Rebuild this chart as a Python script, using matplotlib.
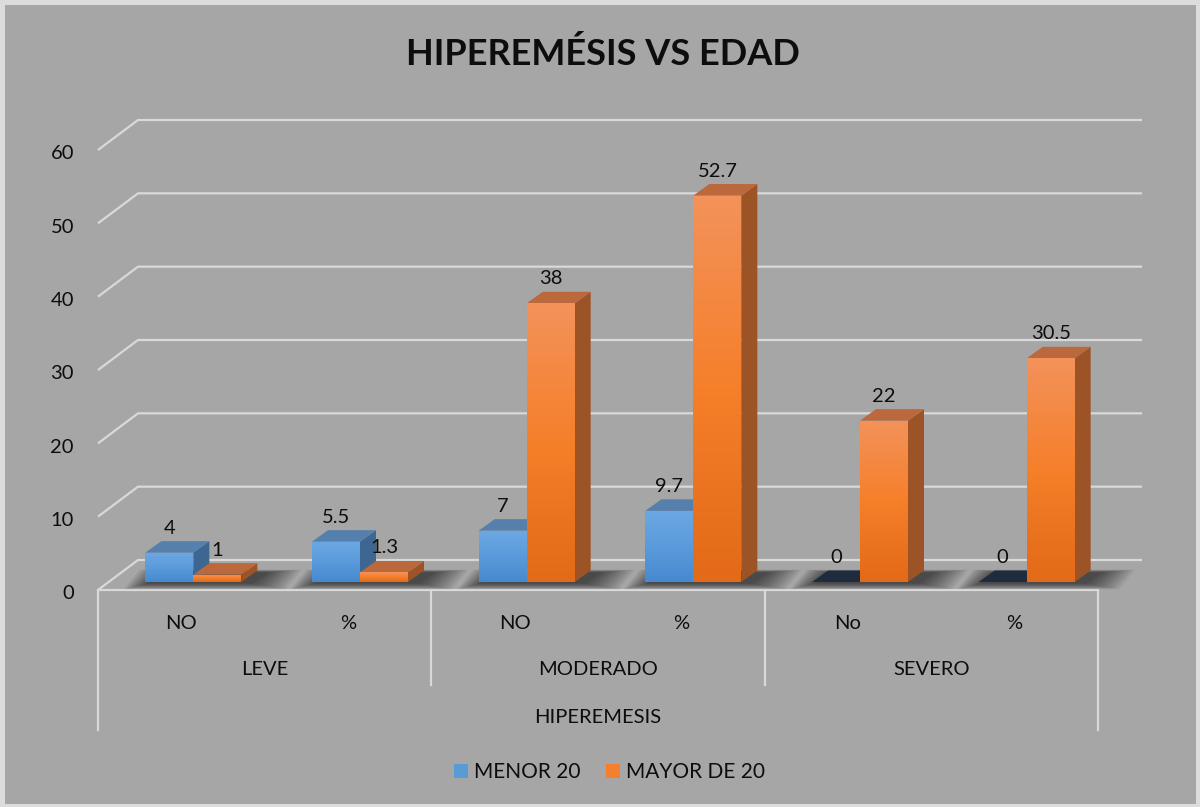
import numpy as np
import matplotlib
matplotlib.use('Agg')
import matplotlib.pyplot as plt
from matplotlib.patches import Polygon, Rectangle
from matplotlib.transforms import offset_copy, IdentityTransform
from matplotlib.colors import LinearSegmentedColormap

# ---------------- data ----------------
title = 'HIPEREMÉSIS VS EDAD'
subcats = ['NO', '%', 'NO', '%', 'No', '%']
groups = ['LEVE', 'MODERADO', 'SEVERO']
axis_title = 'HIPEREMESIS'
series_names = ['MENOR 20', 'MAYOR DE 20']
menor20 = [4, 5.5, 7, 9.7, 0, 0]
mayor20 = [1, 1.3, 38, 52.7, 22, 30.5]
value_labels_menor = ['4', '5.5', '7', '9.7', '0', '0']
value_labels_mayor = ['1', '1.3', '38', '52.7', '22', '30.5']
yticks = [0, 10, 20, 30, 40, 50, 60]

# ---------------- style ----------------
W, H = 1200, 807
BG = '#A6A6A6'
GRID = '#D9D9D9'
TXT = '#0D0D0D'
FONT = ['Lato', 'DejaVu Sans']
plt.rcParams['font.family'] = FONT

blue_front = ['#6CA8E3', '#5B9BDB', '#4689CF']
blue_top = '#557FAD'
blue_side = '#3D6792'
orange_front = ['#F3925A', '#F67F2A', '#E26A18']
orange_top = '#BA683C'
orange_side = '#9C5326'
zero_top = '#1F2C3E'

fig = plt.figure(figsize=(W / 100, H / 100), dpi=100)
fig.patch.set_facecolor('#DCDCDC')
fig.add_artist(Rectangle((5 / W, 3 / H), 1191 / W, 799 / H, transform=fig.transFigure,
                         facecolor=BG, edgecolor='none', zorder=0))

ax = fig.add_axes([98 / W, (H - 590) / H, 1000 / W, 440 / H])
ax.set_xlim(-0.5, len(subcats) - 0.5)
ax.set_ylim(0, 60)
ax.set_autoscale_on(False)
ax.axis('off')
ax.patch.set_alpha(0)

ID = IdentityTransform()
WX, WY = 40, 30        # depth of walls (px)
BX, BY = 12, 8         # bar plane offset (px)
DX, DY = 16, 11.5      # bar depth (px)
bw = 0.288             # width of each bar (category units)

def px(x, y, ox=0.0, oy=0.0):
    p = ax.transData.transform((x, y))
    return (p[0] + ox, p[1] + oy)

def line(pts, **kw):
    xs, ys = zip(*pts)
    ax.plot(xs, ys, transform=ID, clip_on=False, **kw)

# ---------------- walls / gridlines ----------------
x_lo, x_hi = -0.5, len(subcats) - 0.5
for t in yticks:
    line([px(x_lo, t), px(x_lo, t, WX, WY), px(x_hi, t, WX + 4, WY)],
         color=GRID, lw=1.6, zorder=1, solid_capstyle='butt')
# floor front edge
line([px(x_lo, 0), px(x_hi, 0)], color=GRID, lw=1.6, zorder=1)

# category table verticals
for xv, depth in [(x_lo, 140), (1.5, 95), (3.5, 95), (x_hi, 140)]:
    line([px(xv, 0), px(xv, 0, 0, -depth)], color=GRID, lw=1.6, zorder=1)

# ---------------- bars ----------------
bar_trans = offset_copy(ax.transData, fig=fig, x=BX, y=BY, units='dots')

def cmap_of(cols):
    return LinearSegmentedColormap.from_list('g', cols)

# soft shadows on the floor
for i in range(len(subcats)):
    fl = px(i - bw, 0, BX, BY)
    fr = px(i + bw, 0, BX, BY)
    for k in range(14, 0, -1):
        e = k * 2.6
        pts = [(fl[0] - e * 0.7 + 4, fl[1] - 1 - k * 0.45),
               (fr[0] + e + 8, fr[1] - 1 - k * 0.45),
               (fr[0] + DX + e + 8, fr[1] + DY - 2 + k * 0.2),
               (fl[0] + DX - e * 0.7 + 4, fl[1] + DY - 2 + k * 0.2)]
        ax.add_patch(Polygon(pts, closed=True, transform=ID, facecolor='black',
                             edgecolor='none', alpha=0.05, zorder=2, clip_on=False))

def draw_bar(x0, h, front_cols, top_col, side_col):
    x1 = x0 + bw
    if h <= 0:
        pts = [px(x0, 0, BX, BY), px(x1, 0, BX, BY),
               px(x1, 0, BX + DX, BY + DY), px(x0, 0, BX + DX, BY + DY)]
        ax.add_patch(Polygon(pts, closed=True, transform=ID, facecolor=zero_top,
                             edgecolor='none', zorder=3, clip_on=False))
        return
    # side face
    side = [px(x1, 0, BX, BY), px(x1, h, BX, BY),
            px(x1, h, BX + DX, BY + DY), px(x1, 0, BX + DX, BY + DY)]
    ax.add_patch(Polygon(side, closed=True, transform=ID, facecolor=side_col,
                         edgecolor='none', zorder=3, clip_on=False))
    # top face
    top = [px(x0, h, BX, BY), px(x1, h, BX, BY),
           px(x1, h, BX + DX, BY + DY), px(x0, h, BX + DX, BY + DY)]
    ax.add_patch(Polygon(top, closed=True, transform=ID, facecolor=top_col,
                         edgecolor='none', zorder=3, clip_on=False))
    # front face (light at top, darker at bottom)
    bars = ax.bar(x0, h, width=bw, align='edge', transform=bar_trans,
                  color=front_cols[1], edgecolor='none', zorder=3, clip_on=False)
    grad = np.linspace(0, 1, 100).reshape(-1, 1)
    im = ax.imshow(grad, cmap=cmap_of(front_cols), aspect='auto', origin='upper',
                   extent=(x0, x1, 0, h), transform=bar_trans, zorder=3.1,
                   interpolation='bilinear', clip_on=True)
    im.set_clip_path(bars[0])

for i in range(len(subcats)):
    draw_bar(i - bw, menor20[i], blue_front, blue_top, blue_side)
    draw_bar(i, mayor20[i], orange_front, orange_top, orange_side)

ax.set_xlim(-0.5, len(subcats) - 0.5)
ax.set_ylim(0, 60)

# ---------------- value labels ----------------
lab_trans = offset_copy(ax.transData, fig=fig, x=BX, y=BY + DY + 7.5, units='dots')
for i in range(len(subcats)):
    ax.text(i - bw / 2, menor20[i], value_labels_menor[i], transform=lab_trans,
            ha='center', va='baseline', fontsize=14.5, color=TXT, zorder=5)
    ax.text(i + bw / 2, mayor20[i], value_labels_mayor[i], transform=lab_trans,
            ha='center', va='baseline', fontsize=14.5, color=TXT, zorder=5)

# ---------------- y tick labels ----------------
tick_trans = offset_copy(ax.transData, fig=fig, x=-24, y=-9.3, units='dots')
for t in yticks:
    ax.text(x_lo, t, str(t), transform=tick_trans, ha='right', va='baseline',
            fontsize=14.5, color=TXT)

# ---------------- category labels ----------------
row1 = offset_copy(ax.transData, fig=fig, x=0, y=-39, units='dots')
row2 = offset_copy(ax.transData, fig=fig, x=0, y=-85, units='dots')
row3 = offset_copy(ax.transData, fig=fig, x=0, y=-133, units='dots')
for i, s in enumerate(subcats):
    ax.text(i, 0, s, transform=row1, ha='center', va='baseline', fontsize=14.5, color=TXT)
for g, s in enumerate(groups):
    ax.text(2 * g + 0.5, 0, s, transform=row2, ha='center', va='baseline',
            fontsize=14.5, color=TXT)
ax.text((x_lo + x_hi) / 2, 0, axis_title, transform=row3, ha='center', va='baseline',
        fontsize=14.5, color=TXT)

# ---------------- title ----------------
fig.text(603 / W, 1 - 65 / H, title, ha='center', va='baseline', fontsize=26,
         fontweight='bold', color=TXT)

# ---------------- legend ----------------
leg_items = [(454, '#5B9BD5', series_names[0]), (606, '#F47F2C', series_names[1])]
for x0, col, name in leg_items:
    fig.add_artist(Rectangle((x0 / W, 1 - 778 / H), 14 / W, 14 / H, transform=fig.transFigure,
                             facecolor=col, edgecolor='none'))
    fig.text((x0 + 20) / W, 1 - 778 / H, name, ha='left', va='baseline', fontsize=15,
             color=TXT)

fig.savefig('out.png', dpi=100, facecolor=fig.get_facecolor())
